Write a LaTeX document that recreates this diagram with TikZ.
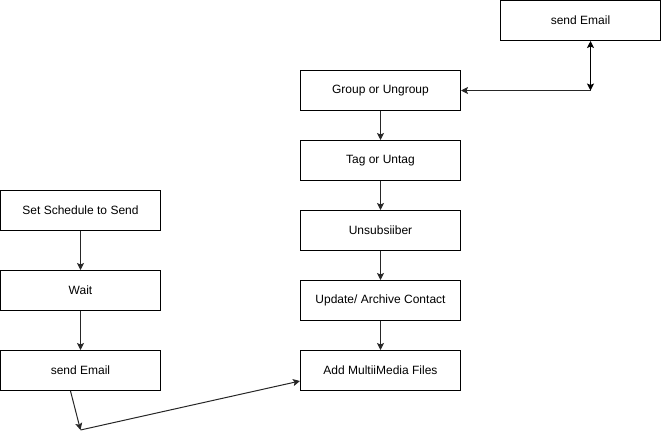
\documentclass[tikz,border=0pt]{standalone}
\usepackage{fontspec}
\setmainfont{Liberation Sans}
\usetikzlibrary{arrows.meta}
\begin{document}
\begin{tikzpicture}[x=1pt,y=-1pt,
  box/.style={draw=black,line width=1pt,fill=white,minimum width=160pt,minimum height=40pt,inner sep=0pt,font=\fontsize{12}{14}\selectfont},
  conn/.style={draw=black!85,line width=1pt,-{Stealth[length=7pt,width=7pt,inset=1.5pt]}},
  dconn/.style={draw=black,line width=1pt,{Stealth[length=7pt,width=7pt,inset=1.5pt]}-{Stealth[length=7pt,width=7pt,inset=1.5pt]}}]
\useasboundingbox (0,0) rectangle (661,439);
\node[box] (se1) at (580.5,20.5) {send Email};
\node[box] (grp) at (380.5,90.5) {Group or Ungroup};
\node[box] (tag) at (380.5,160.5) {Tag or Untag};
\node[box] (uns) at (380.5,230.5) {Unsubsiiber};
\node[box] (upd) at (380.5,300.5) {Update/ Archive Contact};
\node[box] (add) at (380.5,370.5) {Add MultiiMedia Files};
\node[box] (sch) at (80.5,210.5) {Set Schedule to Send};
\node[box] (wai) at (80.5,290.5) {Wait};
\node[box] (se2) at (80.5,370.5) {send Email};
\coordinate (c1) at (590.5,90.5);
\coordinate (c2) at (80.5,430);
\draw[dconn] (se1.south -| c1) -- (c1);
\draw[conn] (c1) -- (grp.east);
\draw[conn] (grp) -- (tag);
\draw[conn] (tag) -- (uns);
\draw[conn] (uns) -- (upd);
\draw[conn] (upd) -- (add);
\draw[conn] (sch) -- (wai);
\draw[conn] (wai) -- (se2);
\draw[conn] (se2.south -| 70.5,0) -- (c2);
\draw[conn] (c2) -- (add.west |- 0,381);
\end{tikzpicture}
\end{document}
